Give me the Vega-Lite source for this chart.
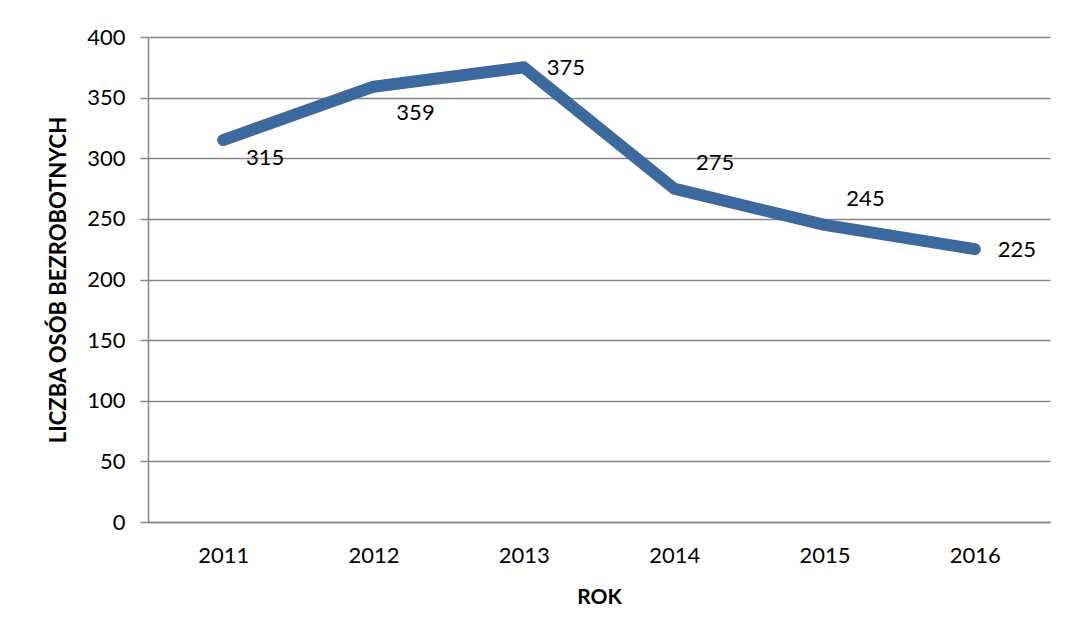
{
  "$schema": "https://vega.github.io/schema/vega-lite/v6.json",
  "width": 902,
  "height": 485,
  "autosize": "none",
  "padding": {"left": 148, "top": 37, "right": 17, "bottom": 118},
  "background": "white",
  "config": {
    "view": {"stroke": null},
    "font": "Lato",
    "axis": {"labelFont": "Lato", "titleFont": "Lato", "labelColor": "black", "titleColor": "black"}
  },
  "data": {
    "values": [
      {"rok": "2011", "liczba": 315},
      {"rok": "2012", "liczba": 359},
      {"rok": "2013", "liczba": 375},
      {"rok": "2014", "liczba": 275},
      {"rok": "2015", "liczba": 245},
      {"rok": "2016", "liczba": 225}
    ]
  },
  "encoding": {
    "x": {
      "field": "rok", "type": "ordinal",
      "scale": {"type": "point", "padding": 0.5},
      "axis": {
        "title": "ROK", "titleFontSize": 21, "titleFontWeight": "bold", "titlePadding": 20,
        "labelFontSize": 22, "labelAngle": 0, "labelPadding": 23,
        "ticks": false, "domainColor": "#868686", "domainWidth": 1.5, "grid": false
      }
    },
    "y": {
      "field": "liczba", "type": "quantitative",
      "scale": {"domain": [0, 400], "nice": false},
      "axis": {
        "title": "LICZBA OSÓB BEZROBOTNYCH", "titleFontSize": 22, "titleFontWeight": "bold", "titlePadding": 16,
        "values": [0, 50, 100, 150, 200, 250, 300, 350, 400],
        "labelFontSize": 22, "labelPadding": 15,
        "tickSize": 8, "tickColor": "#868686", "tickWidth": 1.5,
        "domainColor": "#868686", "domainWidth": 1.5,
        "grid": true, "gridColor": "#868686", "gridWidth": 1.5
      }
    }
  },
  "layer": [
    {
      "mark": {"type": "line", "color": "#3D6A9E", "strokeWidth": 12, "strokeCap": "round", "strokeJoin": "round"}
    },
    {
      "transform": [{"filter": "datum.rok == '2011'"}],
      "mark": {"type": "text", "fontSize": 22, "dx": 42, "dy": 18, "color": "black"},
      "encoding": {"text": {"field": "liczba"}}
    },
    {
      "transform": [{"filter": "datum.rok == '2012'"}],
      "mark": {"type": "text", "fontSize": 22, "dx": 42, "dy": 26, "color": "black"},
      "encoding": {"text": {"field": "liczba"}}
    },
    {
      "transform": [{"filter": "datum.rok == '2013' || datum.rok == '2016'"}],
      "mark": {"type": "text", "fontSize": 22, "dx": 42, "dy": 1, "color": "black"},
      "encoding": {"text": {"field": "liczba"}}
    },
    {
      "transform": [{"filter": "datum.rok == '2014' || datum.rok == '2015'"}],
      "mark": {"type": "text", "fontSize": 22, "dx": 41, "dy": -26, "color": "black"},
      "encoding": {"text": {"field": "liczba"}}
    }
  ]
}
